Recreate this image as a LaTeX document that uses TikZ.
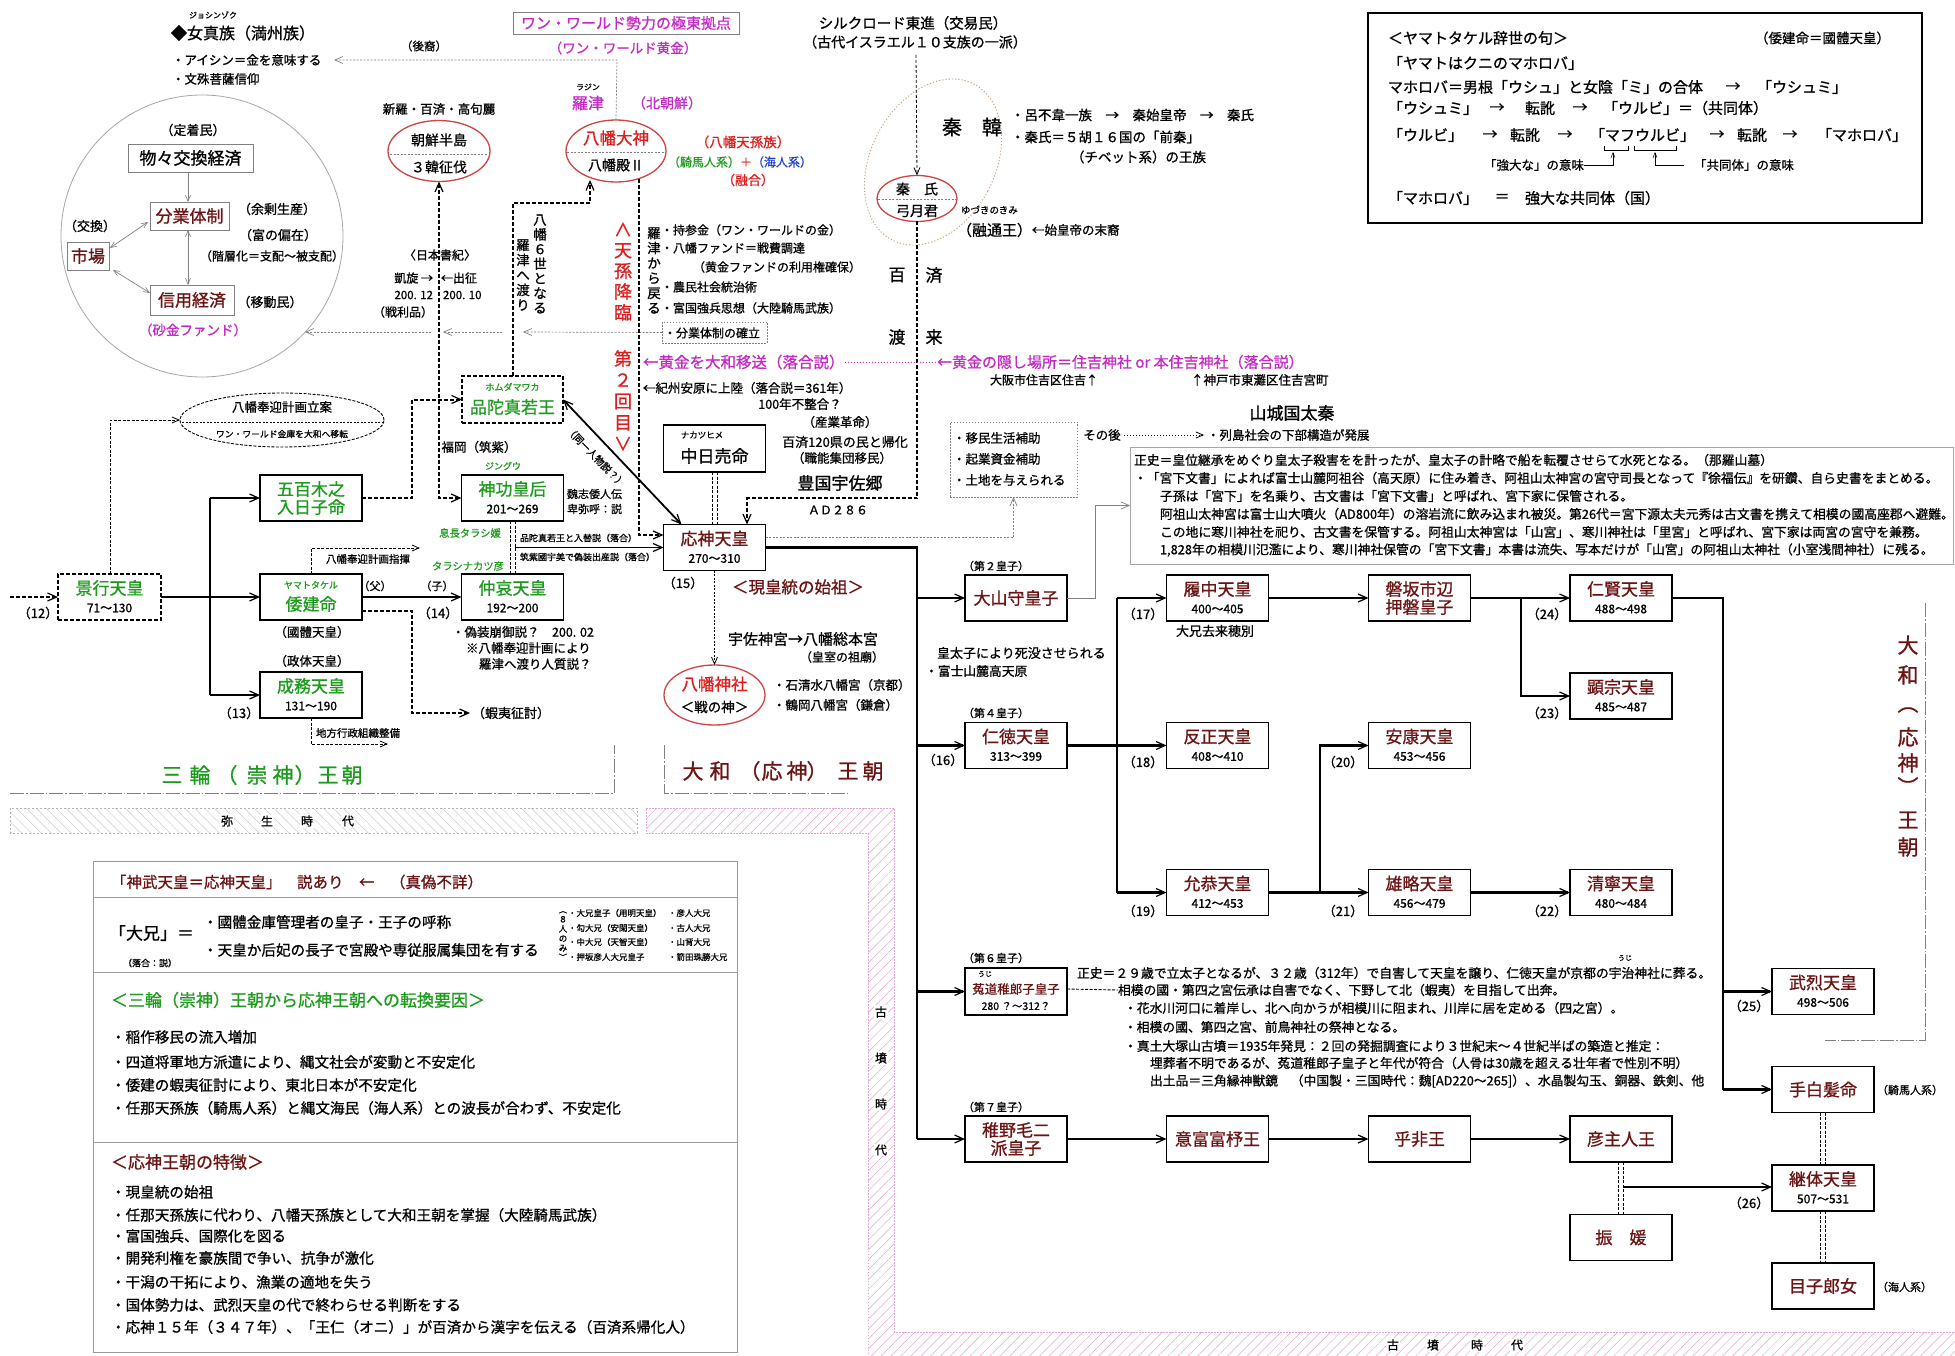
\documentclass[tikz,border=0pt]{standalone}
\usepackage{fontspec}
\setmainfont{Noto Sans CJK JP}[FakeBold=0.9]
\usetikzlibrary{arrows.meta,shapes.geometric,patterns.meta,calc}
\definecolor{grn}{HTML}{1E9B1E}
\definecolor{dred}{HTML}{6B1414}
\definecolor{rd}{HTML}{DC1E1E}
\definecolor{mag}{HTML}{C42AC4}
\definecolor{blu}{HTML}{2040D0}
\definecolor{ell}{HTML}{CC4444}
\definecolor{tanc}{HTML}{C8A078}
\definecolor{pinkb}{HTML}{E2A6D6}
\newcommand\fs[1]{\fontsize{#1}{#1}\selectfont}
\newcommand\EB[6]{\node[ebox] (#1) at (#2,#3) {};
  \node[font=\fs{17},text=#4] at (#2,#3-9) {#5};
  \node[font=\fs{12}] at (#2,#3+11) {#6};}
\newcommand\NB[5]{\node[ebox] (#1) at (#2,#3) {};
  \node[font=\fs{17},text=#4] at (#2,#3) {#5};}
\newcommand\TB[6]{\node[ebox] (#1) at (#2,#3) {};
  \node[font=\fs{17},text=#4] at (#2,#3-9) {#5};
  \node[font=\fs{17},text=#4] at (#2,#3+9) {#6};}
\begin{document}
\begin{tikzpicture}[x=1pt,y=-1pt,
 every node/.style={inner sep=0pt,outer sep=0pt},
 ebox/.style={draw,line width=1.8pt,minimum width=102pt,minimum height=46pt},
 dbox/.style={ebox,dash pattern=on 4pt off 2pt},
 thk/.style={line width=2.2pt},
 tdash/.style={line width=2pt,dash pattern=on 4pt off 2pt},
 arr/.style={-{Straight Barb[length=9pt,width=8pt,line width=1.2pt]}},
 darr/.style={{Straight Barb[length=9pt,width=8pt,line width=1.2pt]}-{Straight Barb[length=9pt,width=8pt,line width=1.2pt]}},
 sarr/.style={-{Straight Barb[length=7pt,width=6pt,line width=0.8pt]}},
 garr/.style={-{Straight Barb[length=8pt,width=7pt,line width=0.7pt]}},
 gdarr/.style={{Straight Barb[length=6pt,width=5pt,line width=0.6pt]}-{Straight Barb[length=6pt,width=5pt,line width=0.6pt]}},
 gdot/.style={gray,line width=0.7pt,dash pattern=on 2pt off 1.5pt},
 dd/.style={line width=0.9pt,dash pattern=on 3pt off 1.5pt},
 cb/.style={draw=gray,line width=0.8pt},
 dashdot/.style={gray,line width=0.7pt,dash pattern=on 14pt off 2pt on 1.5pt off 2pt},
 elln/.style={draw=ell,line width=1.3pt,ellipse},
 divl/.style={gray,line width=0.5pt,dash pattern=on 2pt off 1.5pt}
]
\fill[white] (0,0) rectangle (1955,1356);
\useasboundingbox (0,0) rectangle (1955,1356);

% ---------- hatched era bands ----------
\fill[pattern={Lines[angle=-45,distance=7pt,line width=0.5pt]},pattern color=gray!40] (10,808) rectangle (637,833);
\draw[gray!60,line width=0.6pt,dash pattern=on 2pt off 2pt] (10,808) rectangle (637,833);
\fill[pattern={Lines[angle=45,distance=7pt,line width=0.5pt]},pattern color=pinkb] (646,808) -- (894,808) -- (894,1332) -- (1955,1332) -- (1955,1356) -- (868,1356) -- (868,833) -- (646,833) -- cycle;
\draw[pinkb,line width=0.8pt,dash pattern=on 1.5pt off 1.5pt] (646,808) -- (894,808) -- (894,1332) -- (1955,1332) -- (1955,1356) -- (868,1356) -- (868,833) -- (646,833) -- cycle;
\foreach \c/\x in {弥/227,生/267,時/307,代/348} \node[font=\fs{12},fill=white,inner sep=1pt] at (\x,821) {\c};
\foreach \c/\y in {古/1012,墳/1058,時/1104,代/1150} \node[font=\fs{12},fill=white,inner sep=1pt] at (881,\y) {\c};
\foreach \c/\x in {古/1393,墳/1433,時/1477,代/1517} \node[font=\fs{12},fill=white,inner sep=1pt] at (\x,1345) {\c};

% dynasty brackets
\draw[dashdot] (10,793) -- (614,793) -- (614,745);
\draw[dashdot] (664,745) -- (664,793) -- (848,793);
\draw[dashdot] (1925,603) -- (1925,1040) -- (1825,1040);
\foreach \c/\x in {三/172,輪/200,（/227,崇/257,神/283,）/305,王/328,朝/352} \node[font=\fs{21},text=grn] at (\x,775) {\c};
\foreach \c/\x in {大/693,和/720,（/750,応/772,神/797,）/817,王/848,朝/873} \node[font=\fs{21},text=dred] at (\x,771) {\c};
\foreach \c/\y in {大/645,和/675,︵/710,応/737,神/763,︶/786,王/820,朝/847} \node[font=\fs{21},text=dred] at (1908,\y) {\c};

% ---------- top left ----------
\node[font=\fs{8}] at (213,15) {ジョシンゾク};
\node[font=\fs{16},anchor=west] at (171,33) {◆女真族（満州族）};
\node[font=\fs{11.5}] at (424,46) {（後裔）};
\node[font=\fs{12.5},anchor=west] (aisin) at (172,60) {・アイシン＝金を意味する};
\node[font=\fs{12.5},anchor=west] at (172,79) {・文殊菩薩信仰};

\draw[gray!70,line width=0.8pt] (202,236) circle [radius=141];
\node[font=\fs{13}] at (193,130) {（定着民）};
\node[cb,minimum width=125pt,minimum height=28pt,font=\fs{17}] (bb) at (190.5,158) {物々交換経済};
\node[cb,minimum width=79pt,minimum height=28pt,font=\fs{17},text=dred] (bg) at (189.5,216) {分業体制};
\node[cb,minimum width=42pt,minimum height=28pt,font=\fs{17},text=dred] (ichiba) at (88,256) {市場};
\node[cb,minimum width=84pt,minimum height=30pt,font=\fs{17},text=dred] (shinyo) at (192,300) {信用経済};
\node[font=\fs{13}] at (277,209) {（余剰生産）};
\node[font=\fs{13}] at (278,235) {（富の偏在）};
\node[font=\fs{12}] at (272,256) {（階層化＝支配～被支配）};
\node[font=\fs{13}] at (90,226) {（交換）};
\node[font=\fs{13}] at (270,302) {（移動民）};
\node[font=\fs{13.5},text=mag] at (193,330) {（砂金ファンド）};
\draw[gray,line width=0.7pt,-{Straight Barb[length=6pt,width=5pt,line width=0.6pt]}] (188,172) -- (188,202);
\draw[gray,line width=0.7pt,gdarr] (110,248) -- (148,222);
\draw[gray,line width=0.7pt,gdarr] (113,270) -- (150,293);
\draw[gray,line width=0.7pt,gdarr] (188,230) -- (188,285);

% Korea
\node[font=\fs{12.5}] at (439,109) {新羅・百済・高句麗};
\node[elln,minimum width=102pt,minimum height=61pt] (chosen) at (439,151) {};
\draw[divl] (390,154) -- (488,154);
\node[font=\fs{14}] at (439,140) {朝鮮半島};
\node[font=\fs{14}] at (439,167) {３韓征伐};
\node[font=\fs{12}] at (440,255) {〈日本書紀〉};
\node[font=\fs{12},anchor=east] at (433,278) {凱旋 →};
\node[font=\fs{12},anchor=west] at (441,278) {←出征};
\node[font=\fs{11.5},anchor=east] at (433,295) {200. 12};
\node[font=\fs{11.5},anchor=west] at (443,295) {200. 10};
\node[font=\fs{12},anchor=east] at (433,312) {（戦利品）};

\node[draw,ellipse,line width=0.9pt,dash pattern=on 3pt off 1.5pt,minimum width=204pt,minimum height=54pt] (hoei) at (282,420) {};
\draw[line width=0.6pt,dash pattern=on 2pt off 1.5pt] (182,422) -- (382,422);
\node[font=\fs{12.5}] at (282,407) {八幡奉迎計画立案};
\node[font=\fs{8.8}] at (282,434) {ワン・ワールド金庫を大和へ移転};

% ---------- top centre ----------
\node[draw=gray,line width=0.8pt,minimum width=226pt,minimum height=22pt,font=\fs{15},text=mag] (ow) at (626,23) {ワン・ワールド勢力の極東拠点};
\node[font=\fs{13.5},text=mag] at (623,48) {（ワン・ワールド黄金）};
\node[font=\fs{8}] at (588,87) {ラジン};
\node[font=\fs{16},text=mag] at (588,103) {羅津};
\node[font=\fs{14},text=mag] at (667,103) {（北朝鮮）};
\node[elln,minimum width=100pt,minimum height=62pt] (hm) at (616,151) {};
\draw[divl] (567,152) -- (665,152);
\node[font=\fs{16.5},text=rd] at (616,138) {八幡大神};
\node[font=\fs{14}] at (616,165) {八幡殿Ⅱ};
\node[font=\fs{13.5},text=rd] at (743,142) {（八幡天孫族）};
\node[font=\fs{12}] at (740,162) {\color{grn}（騎馬人系）\color{rd}＋\color{blu}（海人系）};
\node[font=\fs{13},text=rd] at (748,180) {（融合）};
\draw[gdot,garr] (hm.north) -- (617,60) -- (334,60);

\node[font=\fontsize{18}{20.75}\selectfont,text=rd,align=center] at (623,271.5) {∧\\天\\孫\\降\\臨};
\node[font=\fontsize{18}{21.25}\selectfont,text=rd,align=center] at (623,400.5) {第\\２\\回\\目\\∨};
\node[font=\fontsize{13.5}{14.7}\selectfont,align=center] at (540,264) {八\\幡\\６\\世\\と\\な\\る};
\node[font=\fontsize{13.5}{15}\selectfont,align=center] at (523,275) {羅\\津\\へ\\渡\\り};
\node[font=\fontsize{13.5}{15}\selectfont,align=center] at (654,270.5) {羅\\津\\か\\ら\\戻\\る};
\node[font=\fs{12},anchor=west] at (661,230) {・持参金（ワン・ワールドの金）};
\node[font=\fs{12},anchor=west] at (661,248) {・八幡ファンド＝戦費調達};
\node[font=\fs{12},anchor=west] at (693,267) {（黄金ファンドの利用権確保）};
\node[font=\fs{12},anchor=west] at (661,287) {・農民社会統治術};
\node[font=\fs{12},anchor=west] at (661,308) {・富国強兵思想（大陸騎馬武族）};
\node[draw=gray,line width=0.7pt,dash pattern=on 1.5pt off 1.5pt,minimum width=105pt,minimum height=21pt] (bungyo) at (714.5,332.5) {};
\node[font=\fs{12},anchor=west] at (664,333) {・分業体制の確立};
\draw[gdot,garr] (bungyo.west) -- (523,332);
\draw[gdot,garr] (502,332) -- (443,332);
\draw[gdot,garr] (431,332) -- (305,332);

\node[font=\fs{15.5},text=mag,anchor=west] (iso) at (643,362) {←黄金を大和移送（落合説）};
\node[font=\fs{12.5},anchor=west] at (643,388) {←紀州安原に上陸（落合説＝361年）};
\node[font=\fs{12.5}] at (800,404) {100年不整合？};
\node[font=\fs{12.5}] at (840,422) {（産業革命）};
\node[font=\fs{13}] at (845,442) {百済120県の民と帰化};
\node[font=\fs{12.5}] at (842,458) {（職能集団移民）};
\node[font=\fs{17}] at (840,483) {豊国宇佐郷};
\node[font=\fs{12}] at (838,510) {ＡＤ２８６};

% silk road / Hata
\node[font=\fs{14.5}] (silk) at (913,23) {シルクロード東進（交易民）};
\node[font=\fs{14}] at (915,42) {（古代イスラエル１０支族の一派）};
\draw[tanc,line width=0.9pt,dash pattern=on 1.2pt off 2pt,rotate around={-28:(933,162)}] (933,162) ellipse [x radius=62, y radius=88];
\node[font=\fs{20}] at (972,127) {秦　韓};
\node[elln,minimum width=80pt,minimum height=46pt] (hata) at (917,198.5) {};
\draw[divl] (878,199) -- (956,199);
\node[font=\fs{14}] at (917,189) {秦　氏};
\node[font=\fs{14}] at (917,211) {弓月君};
\draw[line width=0.8pt,dash pattern=on 3pt off 2pt,sarr] (916,55) -- (hata.north);
\node[font=\fs{9.5},anchor=west] at (961,210) {ゆづきのきみ};
\node[font=\fs{15},anchor=west] at (957,230) {（融通王）};
\node[font=\fs{12.5},anchor=west] at (1032,230) {←始皇帝の末裔};
\node[font=\fs{13.5},anchor=west] at (1011,115) {・呂不韋一族　→　秦始皇帝　→　秦氏};
\node[font=\fs{13.5},anchor=west] at (1011,137) {・秦氏＝５胡１６国の「前秦」};
\node[font=\fs{13.5},anchor=west] at (1071,157) {（チベット系）の王族};
\draw[tdash,arr] (hata.south) |- (747,498) -- (747,524.5);
\node[font=\fs{17},fill=white,inner sep=1pt] at (897,275) {百};
\node[font=\fs{17},fill=white,inner sep=1pt] at (934,275) {済};
\node[font=\fs{17},fill=white,inner sep=1pt] at (897,337) {渡};
\node[font=\fs{17},fill=white,inner sep=1pt] at (934,337) {来};
\node[font=\fs{15},text=mag,anchor=west] (ogon) at (937,362) {←黄金の隠し場所＝住吉神社 or 本住吉神社（落合説）};
\draw[mag,line width=0.7pt,dash pattern=on 1.5pt off 1.5pt] (iso.east) -- (ogon.west);
\node[font=\fs{12},anchor=west] at (990,380) {大阪市住吉区住吉↑};
\node[font=\fs{12.5},anchor=west] at (1191,380) {↑神戸市東灘区住吉宮町};
\node[font=\fs{17}] at (1292,413) {山城国太秦};
\node[font=\fs{12.5}] (sonogo) at (1102,435) {その後};
\node[font=\fs{12.5},anchor=west] (retto) at (1207,435) {・列島社会の下部構造が発展};
\draw[line width=0.7pt,dash pattern=on 1.5pt off 1.5pt,sarr] ([xshift=3pt]sonogo.east) -- ([xshift=-3pt]retto.west);
\node[draw=gray,line width=0.7pt,dash pattern=on 1.5pt off 1.5pt,minimum width=127pt,minimum height=75pt] (imin) at (1013.5,459.5) {};
\node[font=\fs{12.5},anchor=west] at (953,438) {・移民生活補助};
\node[font=\fs{12.5},anchor=west] at (953,459) {・起業資金補助};
\node[font=\fs{12.5},anchor=west] at (953,480) {・土地を与えられる};

% ---------- top right box ----------
\node[draw,line width=1.8pt,minimum width=554pt,minimum height=210pt] (yb) at (1645,118) {};
\node[font=\fs{15},anchor=west] at (1388,38) {＜ヤマトタケル辞世の句＞};
\node[font=\fs{13.5},anchor=east] at (1890,38) {（倭建命＝國體天皇）};
\node[font=\fs{15},anchor=west] at (1388,63) {「ヤマトはクニのマホロバ」};
\node[font=\fs{15},anchor=west] at (1388,87) {マホロバ＝男根「ウシュ」と女陰「ミ」の合体};
\node[font=\fs{15}] at (1733,87) {→};
\node[font=\fs{15},anchor=west] at (1757,87) {「ウシュミ」};
\node[font=\fs{15},anchor=west] at (1388,108) {「ウシュミ」};
\node[font=\fs{15}] at (1497,108) {→};
\node[font=\fs{15}] at (1540,108) {転訛};
\node[font=\fs{15}] at (1580,108) {→};
\node[font=\fs{15},anchor=west] at (1603,108) {「ウルビ」＝（共同体）};
\node[font=\fs{15},anchor=west] at (1388,135) {「ウルビ」};
\node[font=\fs{15}] at (1490,135) {→};
\node[font=\fs{15}] at (1525,135) {転訛};
\node[font=\fs{15}] at (1565,135) {→};
\node[font=\fs{15},anchor=west] at (1590,135) {「マフウルビ」};
\node[font=\fs{15}] at (1717,135) {→};
\node[font=\fs{15}] at (1752,135) {転訛};
\node[font=\fs{15}] at (1790,135) {→};
\node[font=\fs{15},anchor=west] at (1817,135) {「マホロバ」};
\draw[line width=0.6pt] (1604,146) -- (1604,150) -- (1628,150) -- (1628,146);
\draw[line width=0.6pt] (1634,146) -- (1634,150) -- (1676,150) -- (1676,146);
\node[font=\fs{12.5},anchor=west] (kyodai) at (1484,165) {「強大な」の意味};
\node[font=\fs{12.5},anchor=west] (kyodo) at (1694,165) {「共同体」の意味};
\draw[line width=0.6pt,-{Straight Barb[length=5pt,width=4pt,line width=0.5pt]}] (kyodai.east) -- (1613,165) -- (1613,152);
\draw[line width=0.6pt,-{Straight Barb[length=5pt,width=4pt,line width=0.5pt]}] ([xshift=-10pt]kyodo.west) -- (1655,165) -- (1655,152);
\node[font=\fs{15},anchor=west] at (1388,198) {「マホロバ」};
\node[font=\fs{15}] at (1502,198) {＝};
\node[font=\fs{15},anchor=west] at (1525,198) {強大な共同体（国）};

% ---------- note box ----------
\node[draw=gray!70,line width=0.8pt,minimum width=823pt,minimum height=117pt] (note) at (1541.5,505.5) {};
\node[font=\fs{12.8},anchor=west] at (1134,460) {正史＝皇位継承をめぐり皇太子殺害をを計ったが、皇太子の計略で船を転覆させらて水死となる。（那羅山墓）};
\node[font=\fs{12.8},anchor=west] at (1134,478) {・「宮下文書」によれば富士山麓阿祖谷（高天原）に住み着き、阿祖山太神宮の宮守司長となって『徐福伝』を研鑽、自ら史書をまとめる。};
\node[font=\fs{12.8},anchor=west] at (1160,496) {子孫は「宮下」を名乗り、古文書は「宮下文書」と呼ばれ、宮下家に保管される。};
\node[font=\fs{12.8},anchor=west] at (1160,514) {阿祖山太神宮は富士山大噴火（AD800年）の溶岩流に飲み込まれ被災。第26代＝宮下源太夫元秀は古文書を携えて相模の國高座郡へ避難。};
\node[font=\fs{12.8},anchor=west] at (1160,532) {この地に寒川神社を祀り、古文書を保管する。阿祖山太神宮は「山宮」、寒川神社は「里宮」と呼ばれ、宮下家は両宮の宮守を兼務。};
\node[font=\fs{12.8},anchor=west] at (1160,550) {1,828年の相模川氾濫により、寒川神社保管の「宮下文書」本書は流失、写本だけが「山宮」の阿祖山太神社（小室浅間神社）に残る。};

% ---------- family tree: Miwa side ----------
\node[dbox,minimum width=103pt] (keiko) at (109.5,597) {};
\node[font=\fs{17},text=grn] at (109.5,588) {景行天皇};
\node[font=\fs{12}] at (109.5,608) {71～130};
\TB{ioki}{311}{498}{grn}{五百木之}{入日子命}
\node[ebox] (yamato) at (311,597) {};
\node[font=\fs{9},text=grn] at (311,585) {ヤマトタケル};
\node[font=\fs{17},text=grn] at (311,604) {倭建命};
\EB{seimu}{311}{695}{grn}{成務天皇}{131～190}
\node[dbox,minimum width=101pt,minimum height=47pt] (honda) at (512.5,399.5) {};
\node[font=\fs{9},text=grn] at (512.5,387) {ホムダマワカ};
\node[font=\fs{17},text=grn] at (512.5,407) {品陀真若王};
\EB{jingu}{512.5}{498}{grn}{神功皇后}{201～269}
\EB{chuai}{512.5}{597}{grn}{仲哀天皇}{192～200}
\node[ebox,minimum height=47pt] (nakatsu) at (714.5,448.5) {};
\node[font=\fs{8.5}] at (702,435) {ナカツヒメ};
\node[font=\fs{17}] at (714.5,456) {中日売命};
\EB{oujin}{714.5}{547.5}{dred}{応神天皇}{270～310}

\node[font=\fs{13}] at (38,613) {（12）};
\node[font=\fs{13}] at (239,713) {（13）};
\node[font=\fs{13}] at (438,613) {（14）};
\node[font=\fs{13}] at (683,583) {（15）};
\node[font=\fs{12.5}] at (312,632) {（國體天皇）};
\node[font=\fs{12.5}] at (312,661) {（政体天皇）};
\node[font=\fs{11}] at (375,586) {（父）};
\node[font=\fs{11}] at (437,586) {（子）};
\node[font=\fs{10.5}] at (368,559) {八幡奉迎計画指揮};
\node[font=\fs{10.5}] at (358,733) {地方行政組織整備};
\node[font=\fs{13},anchor=west] at (472,713) {（蝦夷征討）};
\node[font=\fs{12.5}] at (479,447) {福岡（筑紫）};
\node[font=\fs{9},text=grn] at (503,466) {ジングウ};
\node[font=\fs{11},anchor=west] at (567,494) {魏志倭人伝};
\node[font=\fs{11},anchor=west] at (567,509) {卑弥呼：説};
\node[font=\fs{10.3},text=grn] at (470,533) {息長タラシ媛};
\node[font=\fs{10.3},text=grn] at (468,566) {タラシナカツ彦};
\node[font=\fs{9},anchor=west] at (520,538) {品陀真若王と入替説（落合）};
\node[font=\fs{9},anchor=west] at (520,557) {筑紫國宇美で偽装出産説（落合）};
\node[font=\fs{12.5},anchor=west] at (452,632) {・偽装崩御説？　200. 02};
\node[font=\fs{12.5},anchor=west] at (466,648) {※八幡奉迎計画により};
\node[font=\fs{12.5},anchor=west] at (479,664) {羅津へ渡り人質説？};
\node[font=\fs{10},rotate=-46] at (596,457) {（同一人物説？）};

% connectors (Miwa side)
\draw[tdash,arr] (10,597) -- (keiko.west);
\draw[thk] (keiko.east) -- (210,597);
\draw[thk] (210,498) -- (210,695);
\draw[thk,arr] (210,498) -- (ioki.west);
\draw[thk,arr] (210,597) -- (yamato.west);
\draw[thk,arr] (210,695) -- (seimu.west);
\draw[thk,arr] (yamato.east) -- (chuai.west);
\draw[line width=0.9pt,dash pattern=on 3pt off 1.5pt,sarr] (110,574) |- (hoei.west);
\draw[line width=0.9pt,dash pattern=on 3pt off 1.5pt,sarr] (yamato.north) |- (420,548);
\draw[line width=0.9pt,dash pattern=on 3pt off 1.5pt,sarr] (seimu.south) |- (388,744);
\draw[tdash,arr] (362,611) -- (412,611) |- (470,713);
\draw[tdash,arr] (ioki.east) -- (412,498) -- (412,399.5) -- (honda.west);
\draw[tdash,darr] (jingu.west) -| (chosen.south);
\draw[tdash,arr] (513,376) -- (513,203) -- (590,203) -- (590,180);
\draw[tdash,arr] (639,179) |- (oujin.west |- 0,535);
\draw[dd] ([xshift=-2.5pt]jingu.south) -- ([xshift=-2.5pt]chuai.north);
\draw[dd] ([xshift=2.5pt]jingu.south) -- ([xshift=2.5pt]chuai.north);
\draw[line width=1.6pt,arr] (515,547.5) -- (oujin.west);
\draw[dd] ([xshift=-2.5pt]nakatsu.south) -- ([xshift=-2.5pt]oujin.north);
\draw[dd] ([xshift=2.5pt]nakatsu.south) -- ([xshift=2.5pt]oujin.north);
\draw[line width=1.8pt,darr] (honda.east) -- ($(oujin.north west)+(18,0)$);

% Oujin surroundings
\node[font=\fs{16.5},text=dred] at (798,587) {＜現皇統の始祖＞};
\node[elln,minimum width=101pt,minimum height=60pt] (hjinja) at (714.5,695) {};
\node[font=\fs{16.5},text=rd] at (714.5,684) {八幡神社};
\node[font=\fs{13.5}] at (714.5,707) {＜戦の神＞};
\draw[line width=0.8pt,dash pattern=on 2pt off 1.5pt,sarr] (oujin.south) -- (hjinja.north);
\node[font=\fs{15},anchor=west] at (728,639) {宇佐神宮→八幡総本宮};
\node[font=\fs{12}] at (842,657) {（皇室の祖廟）};
\node[font=\fs{12.5},anchor=west] at (773,685) {・石清水八幡宮（京都）};
\node[font=\fs{12.5},anchor=west] at (773,705) {・鶴岡八幡宮（鎌倉）};
\draw[gdot,garr] ([yshift=10pt]oujin.east) -| (imin.south);

% ---------- Yamato side ----------
\NB{ooyama}{1016}{598}{dred}{大山守皇子}
\EB{nintoku}{1016}{745.5}{dred}{仁徳天皇}{313～399}
\node[ebox,minimum height=47pt] (uji) at (1016,991.5) {};
\node[font=\fs{7}] at (985,974) {うじ};
\node[font=\fs{12.5},text=dred] at (1016,989) {菟道稚郎子皇子};
\node[font=\fs{10.5}] at (1016,1006) {280 ？～312？};
\TB{wakanu}{1016}{1139}{dred}{稚野毛二}{派皇子}
\EB{richu}{1217.5}{598}{dred}{履中天皇}{400～405}
\EB{hanzei}{1217.5}{745.5}{dred}{反正天皇}{408～410}
\EB{ingyo}{1217.5}{892.5}{dred}{允恭天皇}{412～453}
\NB{ohodo}{1217.5}{1139}{dred}{意富富杼王}
\TB{iwasaka}{1419.5}{598}{dred}{磐坂市辺}{押磐皇子}
\EB{anko}{1419.5}{745.5}{dred}{安康天皇}{453～456}
\EB{yuryaku}{1419.5}{892.5}{dred}{雄略天皇}{456～479}
\NB{ohi}{1419.5}{1139}{dred}{乎非王}
\EB{ninken}{1621}{598}{dred}{仁賢天皇}{488～498}
\EB{kenzo}{1621}{696}{dred}{顕宗天皇}{485～487}
\EB{seinei}{1621}{892.5}{dred}{清寧天皇}{480～484}
\NB{hikoushi}{1621}{1139}{dred}{彦主人王}
\NB{furihime}{1621}{1237.5}{dred}{振　媛}
\EB{buretsu}{1823}{991.5}{dred}{武烈天皇}{498～506}
\NB{tashiraka}{1823}{1089.5}{dred}{手白髪命}
\EB{keitai}{1823}{1188}{dred}{継体天皇}{507～531}
\NB{menoko}{1823}{1286}{dred}{目子郎女}

\node[font=\fs{11},anchor=west] at (963,566) {（第２皇子）};
\node[font=\fs{11},anchor=west] at (963,713) {（第４皇子）};
\node[font=\fs{11},anchor=west] at (963,958) {（第６皇子）};
\node[font=\fs{11},anchor=west] at (963,1107) {（第７皇子）};
\node[font=\fs{13},anchor=west] at (937,653) {皇太子により死没させられる};
\node[font=\fs{12.8},anchor=west] at (925,671) {・富士山麓高天原};
\node[font=\fs{13}] at (943,760) {（16）};
\node[font=\fs{13}] at (1143,614) {（17）};
\node[font=\fs{13}] at (1215,631) {大兄去来穂別};
\node[font=\fs{13}] at (1143,762) {（18）};
\node[font=\fs{13}] at (1143,911) {（19）};
\node[font=\fs{13}] at (1343,762) {（20）};
\node[font=\fs{13}] at (1343,911) {（21）};
\node[font=\fs{13}] at (1547,911) {（22）};
\node[font=\fs{13}] at (1547,713) {（23）};
\node[font=\fs{13}] at (1547,614) {（24）};
\node[font=\fs{13}] at (1749,1006) {（25）};
\node[font=\fs{13}] at (1749,1203) {（26）};
\node[font=\fs{11},anchor=west] at (1877,1090) {（騎馬人系）};
\node[font=\fs{11},anchor=west] at (1877,1287) {（海人系）};

\node[font=\fs{12.8},anchor=west] at (1077,973) {正史＝２９歳で立太子となるが、３２歳（312年）で自害して天皇を譲り、仁徳天皇が京都の宇治神社に葬る。};
\node[font=\fs{7}] at (1625,958) {うじ};
\node[font=\fs{12.8},anchor=west] (sagami) at (1118,990) {相模の國・第四之宮伝承は自害でなく、下野して北（蝦夷）を目指して出奔。};
\node[font=\fs{12.8},anchor=west] at (1124,1008) {・花水川河口に着岸し、北へ向かうが相模川に阻まれ、川岸に居を定める（四之宮）。};
\node[font=\fs{12.8},anchor=west] at (1124,1027) {・相模の國、第四之宮、前鳥神社の祭神となる。};
\node[font=\fs{12.8},anchor=west] at (1124,1046) {・真土大塚山古墳＝1935年発見：２回の発掘調査により３世紀末～４世紀半ばの築造と推定：};
\node[font=\fs{12.8},anchor=west] at (1150,1063) {埋葬者不明であるが、菟道稚郎子皇子と年代が符合（人骨は30歳を超える壮年者で性別不明）};
\node[font=\fs{12.8},anchor=west] at (1150,1081) {出土品＝三角縁神獣鏡　（中国製・三国時代：魏[AD220～265]）、水晶製勾玉、銅器、鉄剣、他};
\draw[line width=0.9pt,dash pattern=on 3pt off 1.5pt] (1067,989) -- (sagami.west);

% connectors (Yamato side)
\draw[thk] (oujin.east) -- (917,547.5) -- (917,1139);
\draw[thk,arr] (917,598) -- (ooyama.west);
\draw[thk,arr] (917,745.5) -- (nintoku.west);
\draw[thk,arr] (917,991.5) -- (uji.west);
\draw[thk,arr] (917,1139) -- (wakanu.west);
\draw[gray,line width=0.8pt,garr] (ooyama.east) -- (1095,598) |- (note.west);
\draw[thk] (nintoku.east) -- (1117,745.5);
\draw[thk] (1117,598) -- (1117,892.5);
\draw[thk,arr] (1117,598) -- (richu.west);
\draw[thk,arr] (1117,745.5) -- (hanzei.west);
\draw[thk,arr] (1117,892.5) -- (ingyo.west);
\draw[thk,arr] (richu.east) -- (iwasaka.west);
\draw[thk,arr] (iwasaka.east) -- (ninken.west);
\draw[thk,arr] (1521,598) |- (kenzo.west);
\draw[thk,arr] (ingyo.east) -- (yuryaku.west);
\draw[thk,arr] (1320,892.5) |- (anko.west);
\draw[thk,arr] (yuryaku.east) -- (seinei.west);
\draw[thk] (ninken.east) -- (1723,598) -- (1723,1089.5);
\draw[thk,arr] (1723,991.5) -- (buretsu.west);
\draw[thk,arr] (1723,1089.5) -- (tashiraka.west);
\draw[thk,arr] (wakanu.east) -- (ohodo.west);
\draw[thk,arr] (ohodo.east) -- (ohi.west);
\draw[thk,arr] (ohi.east) -- (hikoushi.west);
\draw[dd] ([xshift=-2.5pt]hikoushi.south) -- ([xshift=-2.5pt]furihime.north);
\draw[dd] ([xshift=2.5pt]hikoushi.south) -- ([xshift=2.5pt]furihime.north);
\draw[thk,arr] (1624,1187) -- (keitai.west |- 0,1187);
\draw[dd] ([xshift=-2.5pt]tashiraka.south) -- ([xshift=-2.5pt]keitai.north);
\draw[dd] ([xshift=2.5pt]tashiraka.south) -- ([xshift=2.5pt]keitai.north);
\draw[dd] ([xshift=-2.5pt]keitai.south) -- ([xshift=-2.5pt]menoko.north);
\draw[dd] ([xshift=2.5pt]keitai.south) -- ([xshift=2.5pt]menoko.north);

% ---------- bottom-left box ----------
\node[draw=gray!80,line width=1pt,minimum width=644pt,minimum height=491pt] (bl) at (415,1106.5) {};
\draw[gray!80,line width=1pt] (93,897) -- (737,897) (93,972) -- (737,972) (93,1142) -- (737,1142);
\node[font=\fs{15.5},text=dred,anchor=west] at (111,882) {「神武天皇＝応神天皇」　説あり　←　（真偽不詳）};
\node[font=\fs{17},anchor=west] at (109,933) {「大兄」＝};
\node[font=\fs{9}] at (150,963) {（落合：説）};
\node[font=\fs{14.6},anchor=west] at (203,922) {・國體金庫管理者の皇子・王子の呼称};
\node[font=\fs{14.6},anchor=west] at (203,950) {・天皇か后妃の長子で宮殿や専従服属集団を有する};
\node[font=\fontsize{8.5}{9.6}\selectfont,align=center] at (563,936) {︵\\８\\人\\の\\み\\︶};
\node[font=\fs{8.5},anchor=west] at (568,913) {・大兄皇子（用明天皇）};
\node[font=\fs{8.5},anchor=west] at (568,928) {・勾大兄（安閑天皇）};
\node[font=\fs{8.5},anchor=west] at (568,942) {・中大兄（天智天皇）};
\node[font=\fs{8.5},anchor=west] at (568,957) {・押坂彦人大兄皇子};
\node[font=\fs{8.5},anchor=west] at (668,913) {・彦人大兄};
\node[font=\fs{8.5},anchor=west] at (668,928) {・古人大兄};
\node[font=\fs{8.5},anchor=west] at (668,942) {・山背大兄};
\node[font=\fs{8.5},anchor=west] at (668,957) {・箭田珠勝大兄};
\node[font=\fs{17},text=grn,anchor=west] at (111,1000) {＜三輪（崇神）王朝から応神王朝への転換要因＞};
\node[font=\fs{14.6},anchor=west] at (111,1037) {・稲作移民の流入増加};
\node[font=\fs{14.6},anchor=west] at (111,1062) {・四道将軍地方派遣により、縄文社会が変動と不安定化};
\node[font=\fs{14.6},anchor=west] at (111,1085) {・倭建の蝦夷征討により、東北日本が不安定化};
\node[font=\fs{14.6},anchor=west] at (111,1108) {・任那天孫族（騎馬人系）と縄文海民（海人系）との波長が合わず、不安定化};
\node[font=\fs{17},text=dred,anchor=west] at (111,1162) {＜応神王朝の特徴＞};
\node[font=\fs{14.6},anchor=west] at (111,1192) {・現皇統の始祖};
\node[font=\fs{14.6},anchor=west] at (111,1215) {・任那天孫族に代わり、八幡天孫族として大和王朝を掌握（大陸騎馬武族）};
\node[font=\fs{14.6},anchor=west] at (111,1236) {・富国強兵、国際化を図る};
\node[font=\fs{14.6},anchor=west] at (111,1258) {・開発利権を豪族間で争い、抗争が激化};
\node[font=\fs{14.6},anchor=west] at (111,1282) {・干潟の干拓により、漁業の適地を失う};
\node[font=\fs{14.6},anchor=west] at (111,1305) {・国体勢力は、武烈天皇の代で終わらせる判断をする};
\node[font=\fs{14.6},anchor=west] at (111,1327) {・応神１５年（３４７年）、「王仁（オニ）」が百済から漢字を伝える（百済系帰化人）};
\end{tikzpicture}
\end{document}
